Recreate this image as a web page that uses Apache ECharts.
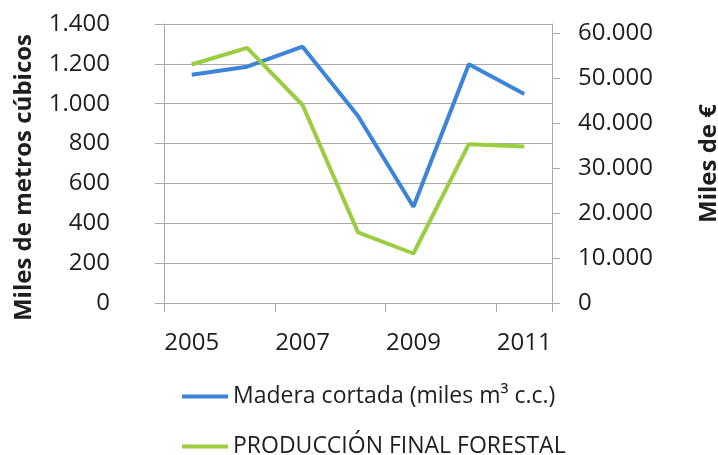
<!DOCTYPE html>
<html>
<head>
<meta charset="utf-8">
<script src="https://cdn.jsdelivr.net/npm/echarts@6/dist/echarts.min.js"></script>
<style>
  html, body { margin: 0; padding: 0; background: #fff; }
  #chart { width: 718px; height: 455px; }
</style>
</head>
<body>
<div id="chart"></div>
<script>
var years = ['2005', '2006', '2007', '2008', '2009', '2010', '2011'];
var maderaCortada = [1145, 1186, 1286, 938, 483, 1198, 1049];
var produccionFinal = [53000, 56700, 44000, 15700, 11000, 35300, 34800];
var leftTicks = [0, 200, 400, 600, 800, 1000, 1200, 1400];
var rightTicks = [0, 10000, 20000, 30000, 40000, 50000, 60000];

var font = 'Open Sans';
var txt = '#1e1e1e';
var grey = '#a9a9a9';

function miles(v) {
    return String(v).replace(/\B(?=(\d{3})+(?!\d))/g, '.');
}

var myChart = echarts.init(document.getElementById('chart'), null, { renderer: 'canvas' });

var option = {
    animation: false,
    backgroundColor: '#fff',
    textStyle: { fontFamily: font },
    grid: { left: 164, right: 166, top: 24, bottom: 152, containLabel: false, outerBoundsMode: 'none' },
    legend: {
        orient: 'vertical',
        left: 182,
        top: 385,
        height: 200,
        padding: 0,
        itemWidth: 46,
        itemHeight: 4,
        itemGap: 27,
        icon: 'rect',
        textStyle: { fontFamily: font, fontSize: 23, lineHeight: 20, color: txt },
        data: ['Madera cortada (miles m³ c.c.)', 'PRODUCCIÓN FINAL FORESTAL']
    },
    xAxis: {
        type: 'category',
        data: years,
        boundaryGap: true,
        axisLine: { lineStyle: { color: grey, width: 1 } },
        axisTick: { show: true, length: 9, lineStyle: { color: grey } },
        axisLabel: { interval: 1, margin: 28, fontSize: 24, color: txt, fontFamily: font }
    },
    yAxis: [{
        type: 'value',
        min: 0,
        max: 1400,
        interval: 200,
        name: 'Miles de metros cúbicos',
        nameLocation: 'middle',
        nameGap: 128,
        nameRotate: 90,
        nameTextStyle: { fontSize: 24, fontWeight: 'bold', color: txt, fontFamily: font, padding: [0, 28, 0, 0] },
        axisLine: { show: true, lineStyle: { color: grey } },
        axisTick: { show: true, length: 9, lineStyle: { color: grey } },
        axisLabel: {
            margin: 54, fontSize: 24, color: txt, fontFamily: font,
            customValues: leftTicks,
            formatter: miles
        },
        splitLine: { show: true, lineStyle: { color: grey, width: 1 } }
    }, {
        type: 'value',
        min: 0,
        max: 62000,
        position: 'right',
        name: 'Miles de €',
        nameLocation: 'middle',
        nameGap: 145,
        nameRotate: 90,
        nameTextStyle: { fontSize: 24, fontWeight: 'bold', color: txt, fontFamily: font },
        axisLine: { show: true, lineStyle: { color: grey } },
        axisTick: { show: true, length: 8, lineStyle: { color: grey }, customValues: rightTicks },
        axisLabel: {
            margin: 26, fontSize: 24, color: txt, fontFamily: font,
            customValues: rightTicks,
            formatter: miles
        },
        splitLine: { show: false }
    }],
    series: [{
        name: 'Madera cortada (miles m³ c.c.)',
        type: 'line',
        yAxisIndex: 0,
        data: maderaCortada,
        symbol: 'none',
        color: '#3b84d8',
        lineStyle: { width: 4, color: '#3b84d8' }
    }, {
        name: 'PRODUCCIÓN FINAL FORESTAL',
        type: 'line',
        yAxisIndex: 1,
        data: produccionFinal,
        symbol: 'none',
        color: '#9acd42',
        lineStyle: { width: 4, color: '#9acd42' }
    }]
};

myChart.setOption(option);
</script>
</body>
</html>
